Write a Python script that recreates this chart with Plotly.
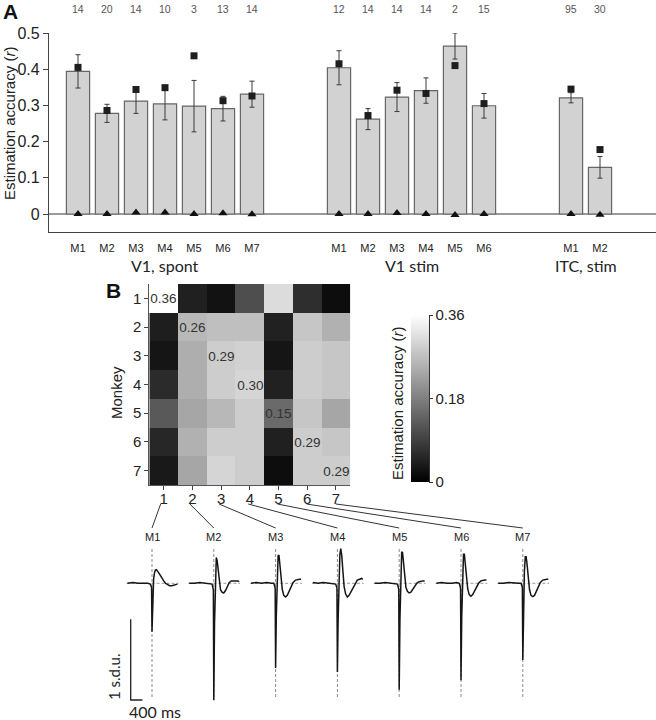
import plotly.graph_objects as go

W, H = 656, 720
def px(x):
    return x / W
def py(y):
    return 1 - y / H

HELV = "Liberation Sans, Arial, sans-serif"
MYR = "Lato, Liberation Sans, sans-serif"

# ---------------- Panel A data ----------------
bar_pos = [0, 1, 2, 3, 4, 5, 6, 9, 10, 11, 12, 13, 14, 17, 18]
bar_labels = ["M1", "M2", "M3", "M4", "M5", "M6", "M7",
              "M1", "M2", "M3", "M4", "M5", "M6",
              "M1", "M2"]
bar_group = [0, 0, 0, 0, 0, 0, 0, 1, 1, 1, 1, 1, 1, 2, 2]
group_names = ["V1, spont", "V1 stim", "ITC, stim"]
bar_vals = [0.394, 0.278, 0.312, 0.304, 0.298, 0.291, 0.331,
            0.404, 0.262, 0.323, 0.341, 0.464, 0.299,
            0.321, 0.129]
bar_err = [0.046, 0.025, 0.034, 0.044, 0.071, 0.034, 0.036,
           0.047, 0.029, 0.040, 0.035, 0.036, 0.034,
           0.014, 0.030]
square_vals = [0.405, 0.286, 0.344, 0.349, 0.437, 0.313, 0.326,
               0.415, 0.272, 0.342, 0.333, 0.410, 0.305,
               0.345, 0.178]
triangle_vals = [0.0, 0.0, 0.004, 0.004, 0.0, 0.002, -0.001,
                 0.0, 0.0, 0.003, 0.0, -0.003, 0.0,
                 0.0, -0.002]
n_counts = ["14", "20", "14", "10", "3", "13", "14",
            "12", "14", "14", "14", "2", "15",
            "95", "30"]
yA_ticks = [0, 0.1, 0.2, 0.3, 0.4, 0.5]
yA_ticktext = ["0", "0.1", "0.2", "0.3", "0.4", "0.5"]

# ---------------- Panel B data ----------------
monkeys = [1, 2, 3, 4, 5, 6, 7]
acc_matrix = [
    [0.360, 0.045, 0.025, 0.110, 0.310, 0.065, 0.018],
    [0.043, 0.260, 0.270, 0.270, 0.047, 0.280, 0.250],
    [0.030, 0.245, 0.290, 0.295, 0.030, 0.290, 0.280],
    [0.060, 0.245, 0.290, 0.300, 0.047, 0.290, 0.280],
    [0.125, 0.235, 0.260, 0.290, 0.150, 0.280, 0.235],
    [0.055, 0.250, 0.290, 0.290, 0.045, 0.290, 0.280],
    [0.036, 0.235, 0.300, 0.290, 0.018, 0.290, 0.290],
]
cbar_ticks = [0, 0.18, 0.36]
cbar_ticktext = ["0", "0.18", "0.36"]

# ---------------- Waveforms (ms, s.d.u.) ----------------
wave_t = [-840, -660, -480, -300, -150, -60, -15, 0, 25, 55, 85, 115, 150,
          190, 230, 280, 340, 400, 460, 530, 600, 680, 760, 820, 870]
wave_M1 = [0.0, 0.01, 0.0, 0.0, 0.0, -0.01, -0.05, -0.60, -0.25, 0.05, 0.13, 0.165, 0.17,
           0.155, 0.13, 0.10, 0.06, 0.03, 0.0, -0.02, -0.03, -0.03, -0.02, -0.01, -0.01]
wave_M2 = [0.0, 0.0, 0.01, 0.0, 0.0, -0.01, -0.08, -1.45, -0.50, 0.20, 0.32, 0.28, 0.15,
           0.0, -0.08, -0.11, -0.12, -0.09, -0.04, 0.01, 0.03, 0.03, 0.03, 0.03, 0.02]
wave_M3 = [0.0, 0.01, 0.0, 0.01, 0.0, 0.0, -0.06, -1.05, -0.40, 0.15, 0.34, 0.35, 0.24,
           0.06, -0.08, -0.15, -0.17, -0.15, -0.10, -0.04, 0.01, 0.04, 0.05, 0.05, 0.05]
wave_M4 = [0.01, 0.0, 0.01, 0.0, 0.0, -0.01, -0.06, -1.10, -0.45, 0.10, 0.36, 0.43, 0.34,
           0.14, -0.04, -0.13, -0.17, -0.15, -0.11, -0.05, 0.0, 0.04, 0.05, 0.06, 0.05]
wave_M5 = [0.0, 0.0, 0.01, 0.0, 0.0, -0.01, -0.07, -1.32, -0.45, 0.20, 0.39, 0.38, 0.26,
           0.08, -0.05, -0.10, -0.12, -0.11, -0.08, -0.04, 0.0, 0.02, 0.03, 0.03, 0.03]
wave_M6 = [0.0, 0.01, 0.0, 0.0, 0.01, 0.0, -0.06, -1.20, -0.42, 0.18, 0.36, 0.36, 0.25,
           0.06, -0.07, -0.14, -0.16, -0.14, -0.10, -0.04, 0.0, 0.03, 0.04, 0.04, 0.04]
wave_M7 = [0.0, 0.0, 0.01, 0.0, 0.0, 0.0, -0.05, -0.95, -0.35, 0.15, 0.33, 0.33, 0.22,
           0.05, -0.08, -0.15, -0.165, -0.15, -0.10, -0.04, 0.01, 0.04, 0.05, 0.05, 0.05]
waves = [wave_M1, wave_M2, wave_M3, wave_M4, wave_M5, wave_M6, wave_M7]
wave_names = ["M1", "M2", "M3", "M4", "M5", "M6", "M7"]
scale_ms = 400
scale_sdu = 1

# ---------------- Figure ----------------
fig = go.Figure()

# Panel A
fig.add_trace(go.Bar(
    x=bar_pos, y=bar_vals, width=0.8,
    marker=dict(color="#d2d2d2", line=dict(color="#666666", width=1.2)),
    error_y=dict(type="data", array=bar_err, visible=True,
                 color="#3a3a3a", thickness=1, width=2.5),
    xaxis="x", yaxis="y", hoverinfo="skip"))
fig.add_trace(go.Scatter(
    x=bar_pos, y=square_vals, mode="markers",
    marker=dict(symbol="square", size=7, color="#1e1e1e"),
    xaxis="x", yaxis="y", cliponaxis=False))
fig.add_trace(go.Scatter(
    x=bar_pos, y=triangle_vals, mode="markers",
    marker=dict(symbol="triangle-up", size=8, color="#111111"),
    xaxis="x", yaxis="y", cliponaxis=False))

# Panel B heatmap
diag_text = [[(f"{acc_matrix[i][j]:.2f}" if i == j else "") for j in range(7)]
             for i in range(7)]
fig.add_trace(go.Heatmap(
    x=monkeys, y=monkeys, z=acc_matrix, zmin=0, zmax=0.36,
    colorscale=[[0, "#000000"], [1, "#ffffff"]],
    text=diag_text, texttemplate="%{text}",
    textfont=dict(family=HELV, size=13.5, color="#333333"),
    xaxis="x2", yaxis="y2", hoverinfo="skip",
    colorbar=dict(x=px(411), xanchor="left", xpad=0, ypad=0,
                  y=py(398.5), yanchor="middle",
                  len=167, lenmode="pixels", thickness=18,
                  outlinewidth=0, tickvals=cbar_ticks, ticktext=cbar_ticktext,
                  ticks="outside", ticklen=4, tickcolor="#333",
                  tickfont=dict(family=HELV, size=15, color="#222"))))

# Waveforms
PX_PER_MS = 11.7 / 400.0
PX_PER_SDU = 80.7
wave_cx = [152 + 61.8 * k for k in range(7)]
half_w = 30
y_top_px, y_bot_px, base_px = 545, 705, 583.3
wx_range = [-half_w / PX_PER_MS, half_w / PX_PER_MS]
wy_range = [-(y_bot_px - base_px) / PX_PER_SDU, (base_px - y_top_px) / PX_PER_SDU]
dash_top = (base_px - 549) / PX_PER_SDU
dash_bot = -(698 - base_px) / PX_PER_SDU

layout_axes = {}
for k, (wv, cx) in enumerate(zip(waves, wave_cx)):
    n = k + 3
    xa, ya = f"x{n}", f"y{n}"
    fig.add_trace(go.Scatter(x=[0, 0], y=[dash_top, dash_bot], mode="lines",
                             line=dict(color="#8a8a8a", width=1, dash="3px,2px"),
                             xaxis=xa, yaxis=ya, hoverinfo="skip"))
    fig.add_trace(go.Scatter(x=[wave_t[0] - 30, wave_t[-1] + 30], y=[0, 0], mode="lines",
                             line=dict(color="#9a9a9a", width=1, dash="3px,2px"),
                             xaxis=xa, yaxis=ya, hoverinfo="skip"))
    fig.add_trace(go.Scatter(x=wave_t, y=wv, mode="lines",
                             line=dict(color="#151515", width=1.5),
                             xaxis=xa, yaxis=ya, hoverinfo="skip"))
    layout_axes[f"xaxis{n}"] = dict(domain=[px(cx - half_w), px(cx + half_w)],
                                    range=wx_range, visible=False, anchor=ya,
                                    fixedrange=True, automargin=False)
    layout_axes[f"yaxis{n}"] = dict(domain=[py(y_bot_px), py(y_top_px)],
                                    range=wy_range, visible=False, anchor=xa,
                                    fixedrange=True, automargin=False)

# scale bar in M1 axes
sb_x0 = (130.7 - wave_cx[0]) / PX_PER_MS
sb_y0 = -(700 - base_px) / PX_PER_SDU
fig.add_trace(go.Scatter(x=[sb_x0, sb_x0, sb_x0 + scale_ms],
                         y=[sb_y0 + scale_sdu, sb_y0, sb_y0], mode="lines",
                         line=dict(color="#222", width=1.3),
                         xaxis="x3", yaxis="y3", hoverinfo="skip"))

# ---------------- Layout ----------------
xA_left = -1.0
xA_right = (656 - 78) / 29.0
C = dict(xanchor="center", yanchor="middle", showarrow=False)
annotations = []
for p, n_ in zip(bar_pos, n_counts):
    annotations.append(dict(x=p, y=py(9), xref="x", yref="paper", text=n_, **C,
                            font=dict(family=HELV, size=10.5, color="#555")))
for g, name in enumerate(group_names):
    members = [p for p, gg in zip(bar_pos, bar_group) if gg == g]
    annotations.append(dict(x=sum(members) / len(members), y=py(265), xref="x", yref="paper",
                            text=name, **C, font=dict(family=MYR, size=16, color="#222")))
annotations += [
    dict(x=px(10), y=py(11.5), xref="paper", yref="paper", text="<b>A</b>", **C,
         font=dict(family=HELV, size=21, color="#111")),
    dict(x=px(113.5), y=py(290.5), xref="paper", yref="paper", text="<b>B</b>", **C,
         font=dict(family=HELV, size=21, color="#111")),
    dict(x=px(9), y=py(124), xref="paper", yref="paper", text="Estimation accuracy (<i>r</i>)",
         textangle=-90, **C, font=dict(family=HELV, size=15, color="#222")),
    dict(x=px(117), y=py(393), xref="paper", yref="paper", text="Monkey",
         textangle=-90, **C, font=dict(family=HELV, size=15, color="#222")),
    dict(x=px(397), y=py(404), xref="paper", yref="paper", text="Estimation accuracy (<i>r</i>)",
         textangle=-90, **C, font=dict(family=HELV, size=15, color="#222")),
    dict(x=px(114), y=py(677), xref="paper", yref="paper", text="1 s.d.u.",
         textangle=-90, **C, font=dict(family=MYR, size=15, color="#222")),
    dict(x=px(155), y=py(711), xref="paper", yref="paper", text="400 ms",
         **C, font=dict(family=MYR, size=16, color="#222")),
]
for name, cx in zip(wave_names, wave_cx):
    annotations.append(dict(x=px(cx), y=py(537), xref="paper", yref="paper", text=name, **C,
                            font=dict(family=HELV, size=11, color="#222")))

hm_left, hm_cell = 149.3, 28.7
shapes = []
for k, cx in enumerate(wave_cx):
    col_c = hm_left + hm_cell * (k + 0.5)
    shapes.append(dict(type="line", xref="paper", yref="paper",
                       x0=px(col_c - 3 + 0.5 * k), y0=py(504), x1=px(cx), y1=py(528),
                       line=dict(color="#333", width=1)))
shapes.append(dict(type="line", xref="paper", yref="paper",
                   x0=px(429.5), y0=py(315), x1=px(429.5), y1=py(482),
                   line=dict(color="#333", width=1)))

fig.update_layout(
    template="none",
    width=W, height=H, margin=dict(l=0, r=0, t=0, b=0, pad=0),
    paper_bgcolor="white", plot_bgcolor="white", showlegend=False,
    xaxis=dict(domain=[px(49), 1.0], range=[xA_left, xA_right],
               tickvals=bar_pos, ticktext=bar_labels, ticks="",
               showline=True, linecolor="#444", linewidth=1.2,
               showgrid=False, zeroline=False, ticklabelstandoff=6,
               tickfont=dict(family=HELV, size=11, color="#222"),
               anchor="y", fixedrange=True, automargin=False),
    yaxis=dict(domain=[py(232), py(33)], range=[-(232 - 214) / 362.0, 0.5],
               tickvals=yA_ticks, ticktext=yA_ticktext,
               ticks="outside", ticklen=5, tickcolor="#444",
               showline=True, linecolor="#444", linewidth=1.2,
               showgrid=False, zeroline=True, zerolinecolor="#9a9a9a", zerolinewidth=1.5,
               tickfont=dict(family=HELV, size=16, color="#222"),
               anchor="x", fixedrange=True, automargin=False),
    xaxis2=dict(domain=[px(149.3), px(350.3)], range=[0.5, 7.5],
                tickvals=monkeys, ticks="outside", ticklen=4, tickcolor="#444",
                showline=True, linecolor="#555", linewidth=1,
                showgrid=False, zeroline=False, ticklabelstandoff=-4,
                tickfont=dict(family=HELV, size=15, color="#222"),
                anchor="y2", fixedrange=True, automargin=False),
    yaxis2=dict(domain=[py(485), py(284)], range=[7.5, 0.5],
                tickvals=monkeys, ticks="outside", ticklen=4, tickcolor="#444",
                showline=True, linecolor="#555", linewidth=1,
                showgrid=False, zeroline=False,
                tickfont=dict(family=HELV, size=15, color="#222"),
                anchor="x2", fixedrange=True, automargin=False),
    annotations=annotations, shapes=shapes,
    **layout_axes,
)

# hide the toolbar and remove the browser's default 8px page margin
fig.write_html("out.html", config={"displayModeBar": False},
               post_script="document.body.style.margin='0px';")
